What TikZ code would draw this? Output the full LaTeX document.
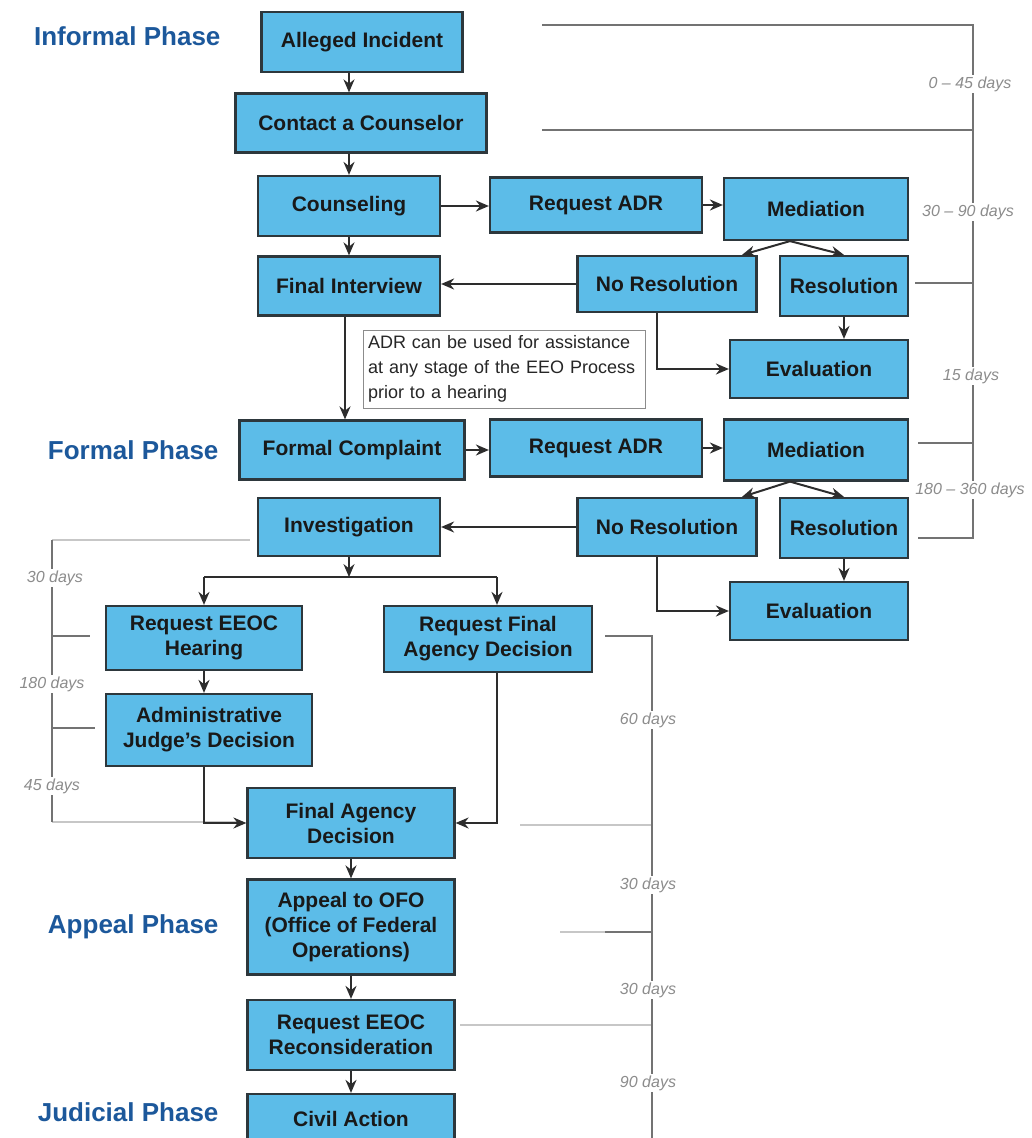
\documentclass[tikz,border=0pt]{standalone}
\usepackage{fontspec}
\setmainfont{Liberation Sans}
\usetikzlibrary{arrows.meta}
\definecolor{boxblue}{RGB}{92,188,232}
\definecolor{boxedge}{RGB}{45,55,60}
\definecolor{phaseblue}{RGB}{28,88,155}
\definecolor{arrowc}{RGB}{45,45,45}
\tikzset{
  stepbox/.style={rectangle, fill=boxblue, draw=boxedge, line width=2.2pt, inner sep=0pt,
    align=center, text=black!90, font=\fontsize{21}{25}\selectfont\bfseries},
  notebox/.style={rectangle, fill=white, draw=black!45, line width=1pt, inner sep=4pt,
    align=left, text width=272pt, minimum width=282pt, minimum height=78pt,
    font=\fontsize{18}{25}\selectfont, text=black!85},
  phase/.style={anchor=east, text=phaseblue, font=\fontsize{26}{28}\selectfont\bfseries},
  arr/.style={draw=arrowc, line width=2pt, -{Stealth[length=13pt,width=11pt]}},
  ln/.style={draw=arrowc, line width=2pt},
  tl/.style={draw=black!55, line width=1.6pt},
  tlf/.style={draw=black!22, line width=1.2pt},
  days/.style={fill=white, inner sep=2pt, text=black!45, font=\fontsize{16}{18}\selectfont\itshape}
}
\begin{document}
\begin{tikzpicture}[x=1pt,y=-1pt]
\useasboundingbox (0,0) rectangle (1032,1138);

% phase labels
\node[phase] (ph1) at (224,36) {Informal Phase};
\node[phase] (ph2) at (222,450) {Formal Phase};
\node[phase] (ph3) at (222,927) {Appeal Phase};
\node[phase] (ph4) at (222,1112) {Judicial Phase};

% timelines (drawn first, labels cover gaps)
\draw[tl] (542,25) -- (973,25) -- (973,538) -- (918,538);
\draw[tl] (542,130) -- (973,130);
\draw[tl] (915,283) -- (973,283);
\draw[tl] (918,443) -- (973,443);
\node[days] (d1) at (970,84) {0 – 45 days};
\node[days] (d2) at (968,212) {30 – 90 days};
\node[days] (d3) at (971,376) {15 days};
\node[days] (d4) at (970,490) {180 – 360 days};

\draw[tlf] (52,540) -- (250,540);
\draw[tlf] (52,822) -- (240,822);
\draw[tl] (52,540) -- (52,822);
\draw[tl] (52,636) -- (90,636);
\draw[tl] (52,728) -- (95,728);
\node[days] (d5) at (55,578) {30 days};
\node[days] (d6) at (52,684) {180 days};
\node[days] (d7) at (52,786) {45 days};

\draw[tlf] (520,825) -- (652,825);
\draw[tlf] (560,932) -- (605,932);
\draw[tlf] (460,1025) -- (652,1025);
\draw[tl] (605,636) -- (652,636) -- (652,1145);
\draw[tl] (605,932) -- (652,932);
\node[days] (d8) at (648,720) {60 days};
\node[days] (d9) at (648,885) {30 days};
\node[days] (d10) at (648,990) {30 days};
\node[days] (d11) at (648,1083) {90 days};

% boxes
\node[stepbox, minimum width=201pt, minimum height=60pt] (al) at (362,42) {Alleged Incident};
\node[stepbox, minimum width=251pt, minimum height=59pt] (cc) at (361,123) {Contact a Counselor};
\node[stepbox, minimum width=182pt, minimum height=60pt] (cs) at (349,206) {Counseling};
\node[stepbox, minimum width=212pt, minimum height=55pt] (ra1) at (596,205) {Request ADR};
\node[stepbox, minimum width=184pt, minimum height=62pt] (me1) at (816,209) {Mediation};
\node[stepbox, minimum width=182pt, minimum height=59pt] (fi) at (349,286) {Final Interview};
\node[stepbox, minimum width=179pt, minimum height=56pt] (nr1) at (667,284) {No Resolution};
\node[stepbox, minimum width=128pt, minimum height=60pt] (re1) at (844,286) {Resolution};
\node[stepbox, minimum width=178pt, minimum height=58pt] (ev1) at (819,369) {Evaluation};
\node[notebox] (note) at (504,369) {ADR can be used for assistance\\at any stage of the EEO Process\\prior to a hearing};

\node[stepbox, minimum width=225pt, minimum height=59pt] (fc) at (352,450) {Formal Complaint};
\node[stepbox, minimum width=212pt, minimum height=57pt] (ra2) at (596,448) {Request ADR};
\node[stepbox, minimum width=184pt, minimum height=61pt] (me2) at (816,450) {Mediation};
\node[stepbox, minimum width=182pt, minimum height=58pt] (inv) at (349,527) {Investigation};
\node[stepbox, minimum width=179pt, minimum height=58pt] (nr2) at (667,527) {No Resolution};
\node[stepbox, minimum width=128pt, minimum height=60pt] (re2) at (844,528) {Resolution};
\node[stepbox, minimum width=178pt, minimum height=58pt] (ev2) at (819,611) {Evaluation};

\node[stepbox, minimum width=196pt, minimum height=64pt] (rh) at (204,638) {Request EEOC\\Hearing};
\node[stepbox, minimum width=208pt, minimum height=66pt] (rf) at (488,639) {Request Final\\Agency Decision};
\node[stepbox, minimum width=206pt, minimum height=72pt] (aj) at (209,730) {Administrative\\Judge's Decision};
\node[stepbox, minimum width=207pt, minimum height=70pt] (fad) at (351,823) {Final Agency\\Decision};
\node[stepbox, minimum width=207pt, minimum height=95pt] (ap) at (351,927) {Appeal to OFO\\(Office of Federal\\Operations)};
\node[stepbox, minimum width=207pt, minimum height=70pt] (rc) at (351,1035) {Request EEOC\\Reconsideration};
\node[stepbox, minimum width=207pt, minimum height=50pt] (ca) at (351,1119) {Civil Action};

% connectors: informal phase
\draw[arr] (al.south -| cs) -- (cc.north -| cs);
\draw[arr] (cc.south -| cs) -- (cs.north);
\draw[arr] (cs.east) -- (cs.east -| ra1.west);
\draw[arr] (ra1.east) -- (ra1.east -| me1.west);
\draw[arr] (cs.south) -- (fi.north);
\draw[arr] ([xshift=-26pt]me1.south) -- ([xshift=75pt]nr1.north);
\draw[arr] ([xshift=-26pt]me1.south) -- (re1.north);
\draw[arr] (nr1.west) -- (nr1.west -| fi.east);
\draw[arr] (re1.south) -- (re1.south |- ev1.north);
\draw[arr] ([xshift=-10pt]nr1.south) |- (ev1.west);
\draw[arr] ([xshift=-4pt]fi.south) -- ([xshift=-4pt]fi.south |- fc.north);

% formal phase
\draw[arr] (fc.east) -- (fc.east -| ra2.west);
\draw[arr] (ra2.east) -- (ra2.east -| me2.west);
\draw[arr] ([xshift=-26pt]me2.south) -- ([xshift=75pt]nr2.north);
\draw[arr] ([xshift=-26pt]me2.south) -- (re2.north);
\draw[arr] (nr2.west) -- (nr2.west -| inv.east);
\draw[arr] (re2.south) -- (re2.south |- ev2.north);
\draw[arr] ([xshift=-10pt]nr2.south) |- (ev2.west);

\coordinate (jn) at ([yshift=-20pt]inv.south);
\coordinate (rfn) at ([xshift=9pt]rf.north);
\coordinate (rfs) at ([xshift=9pt]rf.south);
\draw[arr] (inv.south) -- (jn);
\draw[ln] (jn -| rh) -- (jn -| rfn);
\draw[arr] (jn -| rh) -- (rh.north);
\draw[arr] (jn -| rfn) -- (rfn);
\draw[arr] (rh.south) -- (rh.south |- aj.north);
\draw[arr] (aj.south -| rh) |- (fad.west);
\draw[arr] (rfs) |- (fad.east);

% appeal and judicial
\draw[arr] (fad.south) -- (ap.north);
\draw[arr] (ap.south) -- (rc.north);
\draw[arr] (rc.south) -- (ca.north);
\end{tikzpicture}
\end{document}
